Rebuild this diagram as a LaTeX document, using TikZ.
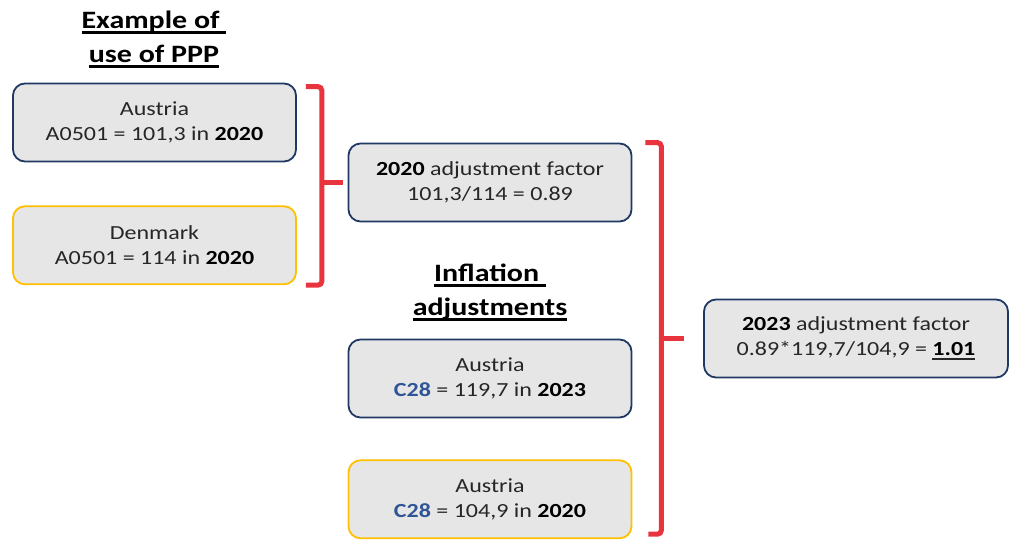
\documentclass[tikz,border=0pt]{standalone}
\usepackage{fontspec}
\setmainfont{Carlito}[FakeStretch=1.2]
\usetikzlibrary{positioning,calc}
\definecolor{boxnavy}{HTML}{203864}
\definecolor{boxgold}{HTML}{FFC000}
\definecolor{boxgray}{HTML}{E7E6E6}
\definecolor{codeblue}{HTML}{2F5597}
\definecolor{bracered}{HTML}{E8343C}
\tikzset{
  infobox/.style={
    rectangle, rounded corners=12pt, draw=boxnavy, line width=1.8pt,
    fill=boxgray, minimum width=283pt, minimum height=78pt,
    align=center, text=black!85, font=\fontsize{20}{25}\selectfont
  },
  goldbox/.style={infobox, draw=boxgold},
  heading/.style={align=center, font=\fontsize{25}{34}\selectfont\bfseries},
  brace/.style={draw=bracered, line width=5pt, rounded corners=4pt}
}
\newsavebox{\ulbox}
\newcommand{\uln}[1]{\sbox{\ulbox}{#1}\rlap{\rule[-0.22em]{\wd\ulbox}{0.1em}}\usebox{\ulbox}}
\newcommand{\yr}[1]{\textbf{\color{black}#1}}
\newcommand{\code}[1]{\textbf{\color{codeblue}#1}}

\begin{document}
\begin{tikzpicture}[x=1pt, y=1pt, node distance=43pt and 52pt]
\useasboundingbox (0,0) rectangle (1011,-540);

% PPP example
\node[infobox] (aut) at (154.5,-122.5) {Austria\\A0501 = 101,3 in \yr{2020}};
\node[goldbox, below=of aut] (dnk) {Denmark\\A0501 = 114 in \yr{2020}};
\node[heading] (ppphead) at (154,-39) {\uln{Example of\ }\\\uln{use of PPP}};

% 2020 factor
\node[infobox] (adj20) at (490,-182.5) {\yr{2020} adjustment factor\\101,3/114 = 0.89};

% Inflation adjustments
\node[heading] (inflhead) at (490,-292) {\uln{Inflation\ }\\\uln{adjustments}};
\node[infobox] (c23) at (490,-378.5) {Austria\\\code{C28} = 119,7 in \yr{2023}};
\node[goldbox, below=41pt of c23] (c20) {Austria\\\code{C28} = 104,9 in \yr{2020}};

% 2023 factor
\node[infobox, minimum width=304pt] (adj23) at (856,-338.5)
  {\yr{2023} adjustment factor\\0.89*119,7/104,9 = \uln{\yr{1.01}}};

% brackets
\draw[brace] ($(aut.north east)+(9,-4)$) -- ++(16,0) coordinate (b1)
  -- (b1 |- dnk.south) -- ++(-16,0);
\draw[brace] (b1 |- adj20.west) -- ($(adj20.west)+(-5,0)$);
\draw[brace] ($(adj20.north east)+(13,0)$) -- ++(16,0) coordinate (b2)
  -- ($(b2 |- c20.south)+(0,5)$) -- ++(-13,0);
\draw[brace] (b2 |- adj23.west) -- ($(adj23.west)+(-19,0)$);

\end{tikzpicture}
\end{document}
